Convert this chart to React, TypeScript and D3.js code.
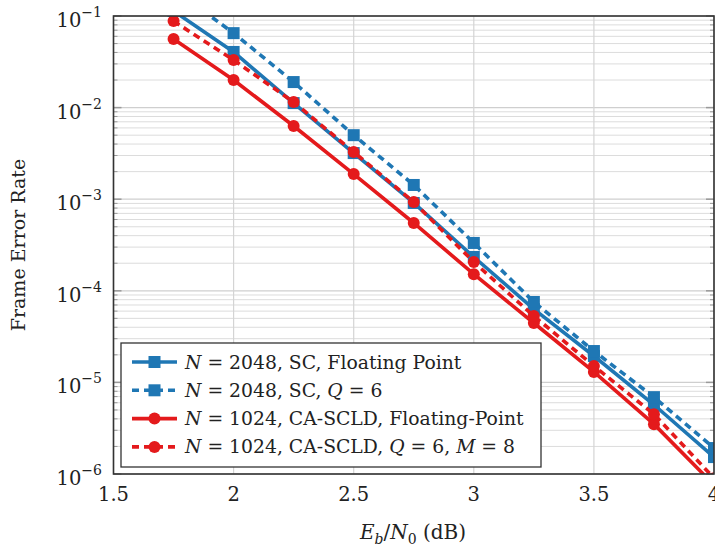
import React from "react";
import * as d3 from "d3";

const snr = [1.75, 2, 2.25, 2.5, 2.75, 3, 3.25, 3.5, 3.75, 4];
const scFloat = [0.1135, 0.0405, 0.0112, 3.19e-3, 9.1e-4, 2.34e-4, 6.3e-5, 1.94e-5, 5.7e-6, 1.53e-6];
const scQ6 = [0.197, 0.065, 0.019, 5.0e-3, 1.43e-3, 3.33e-4, 7.55e-5, 2.2e-5, 6.9e-6, 1.92e-6];
const cascldFloat = [0.0561, 0.02, 6.3e-3, 1.88e-3, 5.5e-4, 1.52e-4, 4.45e-5, 1.3e-5, 3.5e-6, 7.6e-7];
const cascldQ6 = [0.088, 0.033, 0.0115, 3.27e-3, 9.3e-4, 2.06e-4, 5.3e-5, 1.51e-5, 4.5e-6, 9.0e-7];
const xTicks = [1.5, 2, 2.5, 3, 3.5, 4];
const yExps = [-1, -2, -3, -4, -5, -6];

const BLUE = "#1f77b4";
const RED = "#e41a1c";

const series = [
  { key: "a", vals: scFloat, color: BLUE, dash: null, marker: "square" },
  { key: "b", vals: scQ6, color: BLUE, dash: "7 5", marker: "square" },
  { key: "c", vals: cascldFloat, color: RED, dash: null, marker: "circle" },
  { key: "d", vals: cascldQ6, color: RED, dash: "7 5", marker: "circle" },
];

const L = 113.5, R = 714, T = 16, B = 474;
const FONT = "DejaVu Serif";

export default function App() {
  const x = d3.scaleLinear().domain([1.5, 4]).range([L, R]);
  const y = d3.scaleLog().domain([1e-6, 1e-1]).range([B, T]);
  const line = d3.line<[number, number]>().x((d) => x(d[0])).y((d) => y(d[1]));

  const minor: number[] = [];
  for (let e = -6; e < -1; e++) for (let k = 2; k <= 9; k++) minor.push(k * Math.pow(10, e));

  const marker = (kind: string, cx: number, cy: number, color: string, key: string) =>
    kind === "square" ? (
      <rect key={key} x={cx - 6} y={cy - 6} width={12} height={12} fill={color} />
    ) : (
      <circle key={key} cx={cx} cy={cy} r={6} fill={color} />
    );

  const legendItems = [
    { s: series[0], parts: [["N", true], [" = 2048, SC, Floating Point", false]] },
    { s: series[1], parts: [["N", true], [" = 2048, SC, ", false], ["Q", true], [" = 6", false]] },
    { s: series[2], parts: [["N", true], [" = 1024, CA-SCLD, Floating-Point", false]] },
    { s: series[3], parts: [["N", true], [" = 1024, CA-SCLD, ", false], ["Q", true], [" = 6, ", false], ["M", true], [" = 8", false]] },
  ];

  return (
    <svg width={715} height={552} style={{ position: "absolute", left: 0, top: 0 }} fontFamily={FONT}>
      <defs>
        <clipPath id="plot">
          <rect x={L} y={T} width={R - L} height={B - T} />
        </clipPath>
      </defs>
      <rect width={715} height={552} fill="#fff" />
      {minor.map((v, i) => (
        <line key={"mg" + i} x1={L} x2={R} y1={y(v)} y2={y(v)} stroke="#dcdcdc" strokeWidth={1} />
      ))}
      {yExps.map((e) => (
        <line key={"Mg" + e} x1={L} x2={R} y1={y(Math.pow(10, e))} y2={y(Math.pow(10, e))} stroke="#cfcfcf" strokeWidth={1.2} />
      ))}
      {xTicks.map((t) => (
        <line key={"xg" + t} x1={x(t)} x2={x(t)} y1={T} y2={B} stroke="#d4d4d4" strokeWidth={1.2} />
      ))}
      {minor.map((v, i) => (
        <g key={"mt" + i} stroke="#9a9a9a" strokeWidth={1}>
          <line x1={L} x2={L + 4} y1={y(v)} y2={y(v)} />
          <line x1={R} x2={R - 4} y1={y(v)} y2={y(v)} />
        </g>
      ))}
      {yExps.map((e) => (
        <g key={"Mt" + e} stroke="#9a9a9a" strokeWidth={1.5}>
          <line x1={L} x2={L + 8} y1={y(Math.pow(10, e))} y2={y(Math.pow(10, e))} />
          <line x1={R} x2={R - 8} y1={y(Math.pow(10, e))} y2={y(Math.pow(10, e))} />
        </g>
      ))}
      <g clipPath="url(#plot)">
        {series.map((s) => (
          <g key={s.key}>
            <path
              d={line(snr.map((v, i) => [v, s.vals[i]] as [number, number])) || ""}
              fill="none"
              stroke={s.color}
              strokeWidth={3.6}
              strokeDasharray={s.dash || undefined}
            />
            {snr.map((v, i) => marker(s.marker, x(v), y(s.vals[i]), s.color, s.key + i))}
          </g>
        ))}
      </g>
      <rect x={L} y={T} width={R - L} height={B - T} fill="none" stroke="#333" strokeWidth={1.6} />
      {yExps.map((e) => (
        <text key={"yl" + e} x={102} y={y(Math.pow(10, e)) + 11} textAnchor="end" fontSize={19.5} fill="#222">
          10
          <tspan dy={-10} fontSize={14}>
            {"\u2212" + Math.abs(e)}
          </tspan>
        </text>
      ))}
      {xTicks.map((t) => (
        <text key={"xl" + t} x={x(t)} y={501} textAnchor="middle" fontSize={19.5} fill="#222">
          {d3.format("")(t)}
        </text>
      ))}
      <text x={413} y={539} textAnchor="middle" fontSize={20} fill="#222">
        <tspan fontStyle="italic">E</tspan>
        <tspan fontStyle="italic" fontSize={14} dy={5}>b</tspan>
        <tspan dy={-5}>/</tspan>
        <tspan fontStyle="italic">N</tspan>
        <tspan fontSize={14} dy={5}>0</tspan>
        <tspan dy={-5}> (dB)</tspan>
      </text>
      <text transform="translate(25,245) rotate(-90)" textAnchor="middle" fontSize={19} fill="#222">
        Frame Error Rate
      </text>
      <rect x={121} y={343} width={420} height={124} fill="#fff" stroke="#333" strokeWidth={1.3} />
      {legendItems.map((it, i) => {
        const cy = 362 + i * 28.3;
        return (
          <g key={"lg" + i}>
            <line x1={132} x2={177} y1={cy} y2={cy} stroke={it.s.color} strokeWidth={3.6} strokeDasharray={it.s.dash || undefined} />
            {marker(it.s.marker, 154.5, cy, it.s.color, "lm" + i)}
            <text x={185} y={cy + 6.5} fontSize={18.8} fill="#222">
              {it.parts.map((p, j) => (
                <tspan key={j} fontStyle={p[1] ? "italic" : "normal"}>
                  {p[0] as string}
                </tspan>
              ))}
            </text>
          </g>
        );
      })}
    </svg>
  );
}
